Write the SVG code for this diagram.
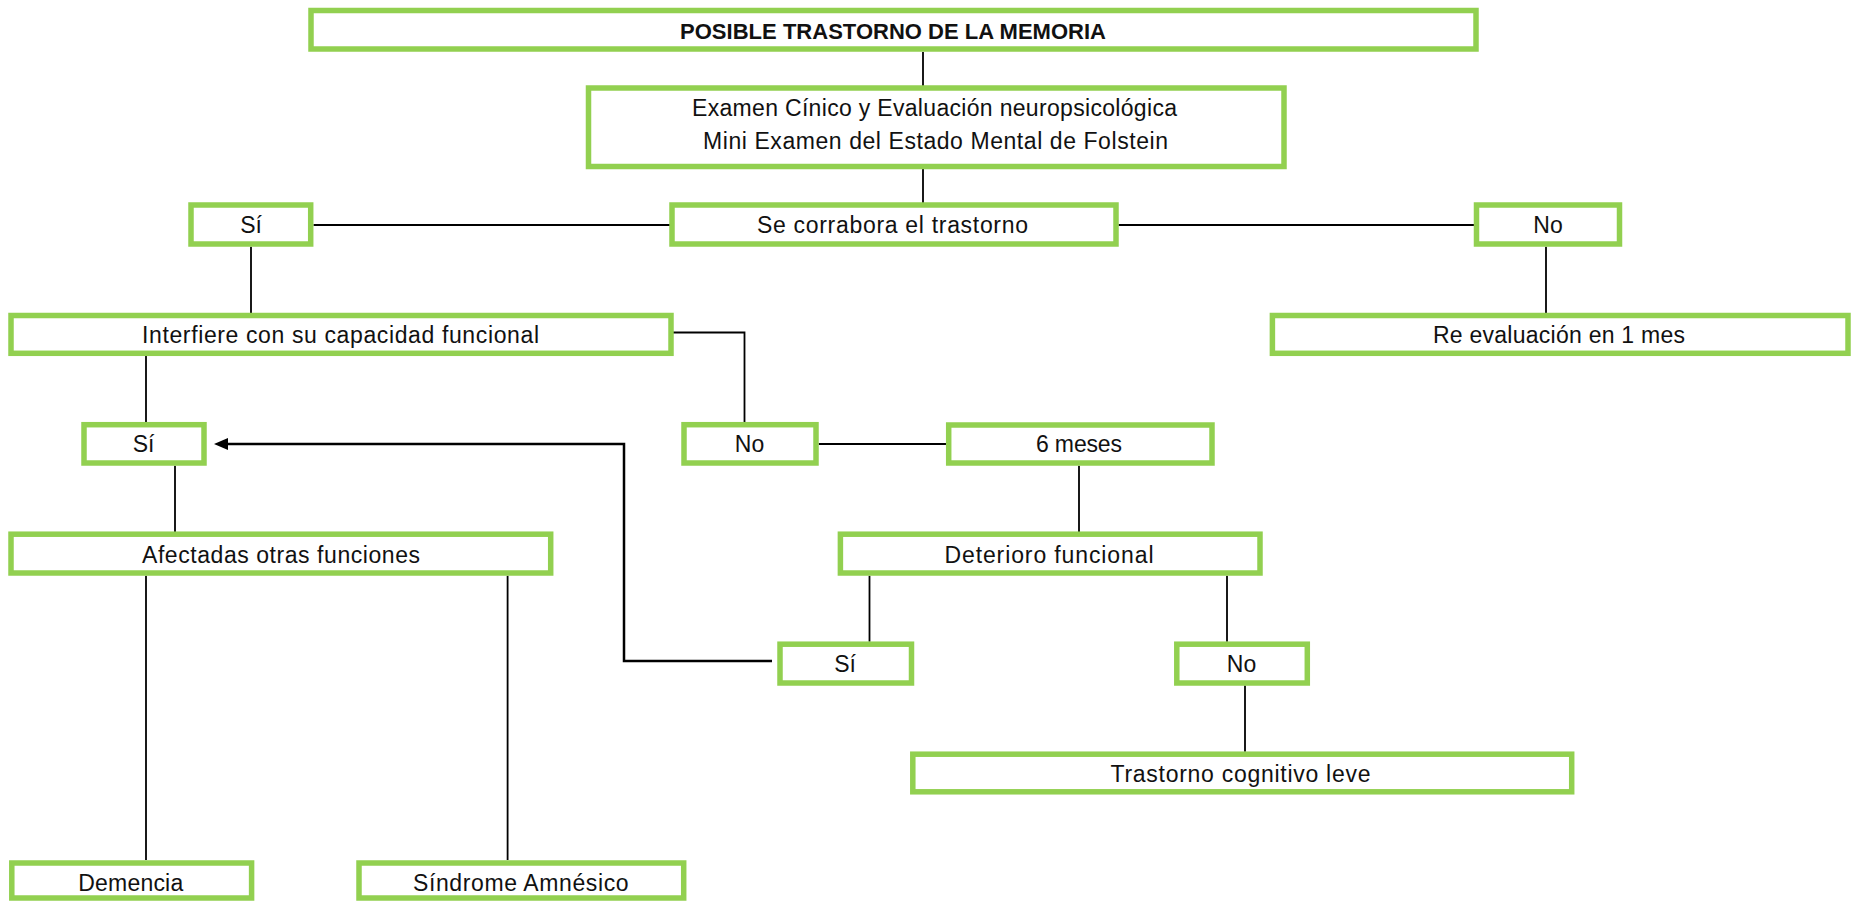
<svg xmlns="http://www.w3.org/2000/svg" width="1854" height="902" viewBox="0 0 1854 902">
  <style>
    .box { fill: #ffffff; stroke: #92D050; stroke-width: 5.5; }
    .lbl { font-family: "Liberation Sans", Arial, sans-serif; font-size: 23px; fill: #111111; text-anchor: middle; }
    .bold { font-weight: bold; font-size: 22px; }
    .wire { fill: none; stroke: #000000; stroke-width: 1.8; }
    .wire-arrow { fill: none; stroke: #000000; stroke-width: 2.5; }
  </style>
  <defs>
    <marker id="arrowhead" markerUnits="userSpaceOnUse" markerWidth="14" markerHeight="12" viewBox="0 0 14 12" refX="8" refY="6" orient="auto">
      <path d="M0,0 L14,6 L0,12 Z" fill="#000000"/>
    </marker>
  </defs>
  <rect width="1854" height="902" fill="#ffffff"/>

  <!-- connectors -->
  <g id="connectors">
    <line class="wire" x1="923" y1="52" x2="923" y2="86"/>
    <line class="wire" x1="923" y1="169" x2="923" y2="203"/>
    <line class="wire" x1="313.5" y1="225" x2="670" y2="225"/>
    <line class="wire" x1="1118.5" y1="225" x2="1474" y2="225"/>
    <line class="wire" x1="251" y1="246.7" x2="251" y2="313"/>
    <line class="wire" x1="1546" y1="246.7" x2="1546" y2="313"/>
    <path class="wire" d="M669 332.5 H744.5 V422"/>
    <line class="wire" x1="146" y1="356" x2="146" y2="422"/>
    <line class="wire" x1="175" y1="465.7" x2="175" y2="532"/>
    <line class="wire" x1="818.7" y1="444" x2="946" y2="444"/>
    <line class="wire" x1="1079" y1="465.7" x2="1079" y2="532"/>
    <line class="wire" x1="869.5" y1="575.7" x2="869.5" y2="641.7"/>
    <line class="wire" x1="1227" y1="575.7" x2="1227" y2="641.7"/>
    <line class="wire" x1="1245" y1="685.5" x2="1245" y2="751.7"/>
    <line class="wire" x1="146" y1="575.7" x2="146" y2="860"/>
    <line class="wire" x1="507.6" y1="575.7" x2="507.6" y2="860"/>
    <path class="wire-arrow" d="M772 661 H624 V444 H220" marker-end="url(#arrowhead)"/>
  </g>

  <!-- nodes -->
  <g id="n-titulo">
    <rect class="box" x="311" y="10.5" width="1165" height="38.5"/>
    <text class="lbl bold" x="893" y="38.5" textLength="426">POSIBLE TRASTORNO DE LA MEMORIA</text>
  </g>
  <g id="n-examen">
    <rect class="box" x="588.5" y="88" width="695.5" height="78.5"/>
    <text class="lbl" x="934.5" y="116" textLength="485">Examen Cínico y Evaluación neuropsicológica</text>
    <text class="lbl" x="935.5" y="149" textLength="465">Mini Examen del Estado Mental de Folstein</text>
  </g>
  <g id="n-corrobora">
    <rect class="box" x="672" y="205" width="444" height="39"/>
    <text class="lbl" x="892.5" y="233.3" textLength="271">Se corrabora el trastorno</text>
  </g>
  <g id="n-si-1">
    <rect class="box" x="191" y="205" width="119.7" height="39"/>
    <text class="lbl" x="251" y="233.3">Sí</text>
  </g>
  <g id="n-no-1">
    <rect class="box" x="1476.5" y="205" width="143" height="39"/>
    <text class="lbl" x="1548" y="233.3">No</text>
  </g>
  <g id="n-interfiere">
    <rect class="box" x="11" y="315.5" width="660" height="37.8"/>
    <text class="lbl" x="340.5" y="342.7" textLength="397">Interfiere con su capacidad funcional</text>
  </g>
  <g id="n-reevaluacion">
    <rect class="box" x="1272.4" y="315.5" width="575.6" height="37.8"/>
    <text class="lbl" x="1559" y="342.7" textLength="252">Re evaluación en 1 mes</text>
  </g>
  <g id="n-si-2">
    <rect class="box" x="84" y="424.7" width="120" height="38.3"/>
    <text class="lbl" x="143.5" y="452.3">Sí</text>
  </g>
  <g id="n-no-2">
    <rect class="box" x="684" y="424.7" width="132" height="38.3"/>
    <text class="lbl" x="749.5" y="452.3">No</text>
  </g>
  <g id="n-seis-meses">
    <rect class="box" x="948.7" y="425" width="263.3" height="38"/>
    <text class="lbl" x="1079" y="452.3" textLength="86">6 meses</text>
  </g>
  <g id="n-afectadas">
    <rect class="box" x="11" y="534.2" width="539.7" height="38.8"/>
    <text class="lbl" x="281" y="562.5" textLength="278">Afectadas otras funciones</text>
  </g>
  <g id="n-deterioro">
    <rect class="box" x="840.4" y="534.2" width="419.6" height="38.8"/>
    <text class="lbl" x="1049" y="562.5" textLength="209">Deterioro funcional</text>
  </g>
  <g id="n-si-3">
    <rect class="box" x="780" y="644.2" width="131.5" height="38.8"/>
    <text class="lbl" x="845" y="671.7">Sí</text>
  </g>
  <g id="n-no-3">
    <rect class="box" x="1176.8" y="644.2" width="130.5" height="38.8"/>
    <text class="lbl" x="1241.5" y="671.7">No</text>
  </g>
  <g id="n-tcl">
    <rect class="box" x="912.8" y="754.2" width="658.9" height="37.6"/>
    <text class="lbl" x="1240.5" y="781.7" textLength="260">Trastorno cognitivo leve</text>
  </g>
  <g id="n-demencia">
    <rect class="box" x="11.8" y="863" width="239.8" height="35"/>
    <text class="lbl" x="130.7" y="890.7" textLength="105">Demencia</text>
  </g>
  <g id="n-amnesico">
    <rect class="box" x="359" y="863" width="324.7" height="35"/>
    <text class="lbl" x="520.8" y="890.7" textLength="215.6">Síndrome Amnésico</text>
  </g>
</svg>
